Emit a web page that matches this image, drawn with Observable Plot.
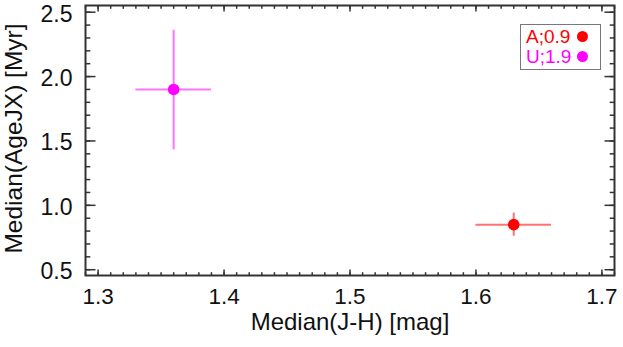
<!DOCTYPE html>
<html>
<head>
<meta charset="utf-8">
<script src="https://cdn.jsdelivr.net/npm/d3@7"></script>
<script src="https://cdn.jsdelivr.net/npm/@observablehq/plot@0.6"></script>
<style>
  html, body { margin: 0; padding: 0; background: #fff; }
  #wrap { position: relative; width: 623px; height: 347px; font-family: "Liberation Sans", Arial, Helvetica, sans-serif; }
  #legend { position: absolute; left: 520px; top: 24px; width: 81px; height: 46px; border: 1.5px solid #777; background: #fff; box-sizing: border-box; }
  #legend .row { position: absolute; left: 5px; font-size: 19px; line-height: 17px; height: 17px; white-space: nowrap; }
  #legend .dot { position: absolute; width: 11px; height: 11px; border-radius: 50%; }
</style>
</head>
<body>
<div id="wrap"></div>
<script>
// ---- data ----
const groups = ["A", "U"];
const legendLabels = ["A;0.9", "U;1.9"];
const groupColors = ["#ff0000", "#ff00ff"];
const medJH = [1.63, 1.36];
const jhErr = [0.03, 0.03];
const medAge = [0.85, 1.90];
const ageLo = [0.76, 1.43];
const ageHi = [0.94, 2.36];

// ---- axes ----
const xTicks = [1.3, 1.4, 1.5, 1.6, 1.7];
const yTicks = [0.5, 1.0, 1.5, 2.0, 2.5];
const xMinor = d3.range(129, 172).map(d => d / 100);
const yMinor = d3.range(5, 26).map(d => d / 10);
const xTitle = "Median(J-H) [mag]";
const yTitle = "Median(AgeJX) [Myr]";

const rows = groups.map((g, i) => ({
  g, x: medJH[i], xlo: medJH[i] - jhErr[i], xhi: medJH[i] + jhErr[i],
  y: medAge[i], ylo: ageLo[i], yhi: ageHi[i], color: groupColors[i]
}));

const tickColor = "#333";
const tickAxis = (dim, anchor, ticks, size) =>
  (dim === "x" ? Plot.axisX : Plot.axisY)({
    anchor, ticks, tickSize: -size, tickFormat: () => "", stroke: tickColor, strokeWidth: 1.5, label: null
  });

const chart = Plot.plot({
  width: 623,
  height: 347,
  marginLeft: 85,
  marginRight: 9,
  marginTop: 5,
  marginBottom: 72,
  style: { fontFamily: '"Liberation Sans", Arial, Helvetica, sans-serif', background: "#fff" },
  x: { domain: [1.29, 1.71], label: null },
  y: { domain: [0.455, 2.552], label: null },
  marks: [
    // error bars
    Plot.ruleY(rows, { y: "y", x1: "xlo", x2: "xhi", stroke: "color", strokeWidth: 2, strokeOpacity: 0.55 }),
    Plot.ruleX(rows, { x: "x", y1: "ylo", y2: "yhi", stroke: "color", strokeWidth: 2, strokeOpacity: 0.55 }),
    Plot.dot(rows, { x: "x", y: "y", r: 5.8, fill: "color", stroke: "none" }),
    // ticks on all four sides, pointing inward
    tickAxis("x", "bottom", xTicks, 5.5),
    tickAxis("x", "top", xTicks, 5.5),
    tickAxis("x", "bottom", xMinor, 2.8),
    tickAxis("x", "top", xMinor, 2.8),
    tickAxis("y", "left", yTicks, 10.5),
    tickAxis("y", "right", yTicks, 10.5),
    tickAxis("y", "left", yMinor, 5.3),
    tickAxis("y", "right", yMinor, 5.3),
    // tick labels
    Plot.axisX({ anchor: "bottom", ticks: xTicks, tickSize: 0, tickPadding: 13, fontSize: 22.5, tickFormat: d3.format(".1f"), fill: "#111", label: null }),
    Plot.axisY({ anchor: "left", ticks: yTicks, tickSize: 0, tickPadding: 13, fontSize: 23, tickFormat: d3.format(".1f"), fill: "#111", label: null, dy: 2 }),
    // axis titles
    Plot.text([xTitle], { frameAnchor: "bottom", text: d => d, dy: 47, fontSize: 24, fill: "#111", lineAnchor: "middle", textAnchor: "middle" }),
    Plot.text([yTitle], { frameAnchor: "left", text: d => d, dx: -71, dy: -2, rotate: -90, fontSize: 24.5, fill: "#111", lineAnchor: "middle", textAnchor: "middle" }),
    Plot.frame({ stroke: "#333", strokeWidth: 2 })
  ]
});

const wrap = document.getElementById("wrap");
wrap.appendChild(chart);

// legend inside the plot area (top-right)
const legend = document.createElement("div");
legend.id = "legend";
groups.forEach((g, i) => {
  const row = document.createElement("div");
  row.className = "row";
  row.style.top = (3 + i * 20) + "px";
  row.style.color = groupColors[i];
  row.textContent = legendLabels[i];
  legend.appendChild(row);
  const dot = document.createElement("div");
  dot.className = "dot";
  dot.style.left = "56px";
  dot.style.top = (6 + i * 19.5) + "px";
  dot.style.background = groupColors[i];
  legend.appendChild(dot);
});
wrap.appendChild(legend);
</script>
</body>
</html>
